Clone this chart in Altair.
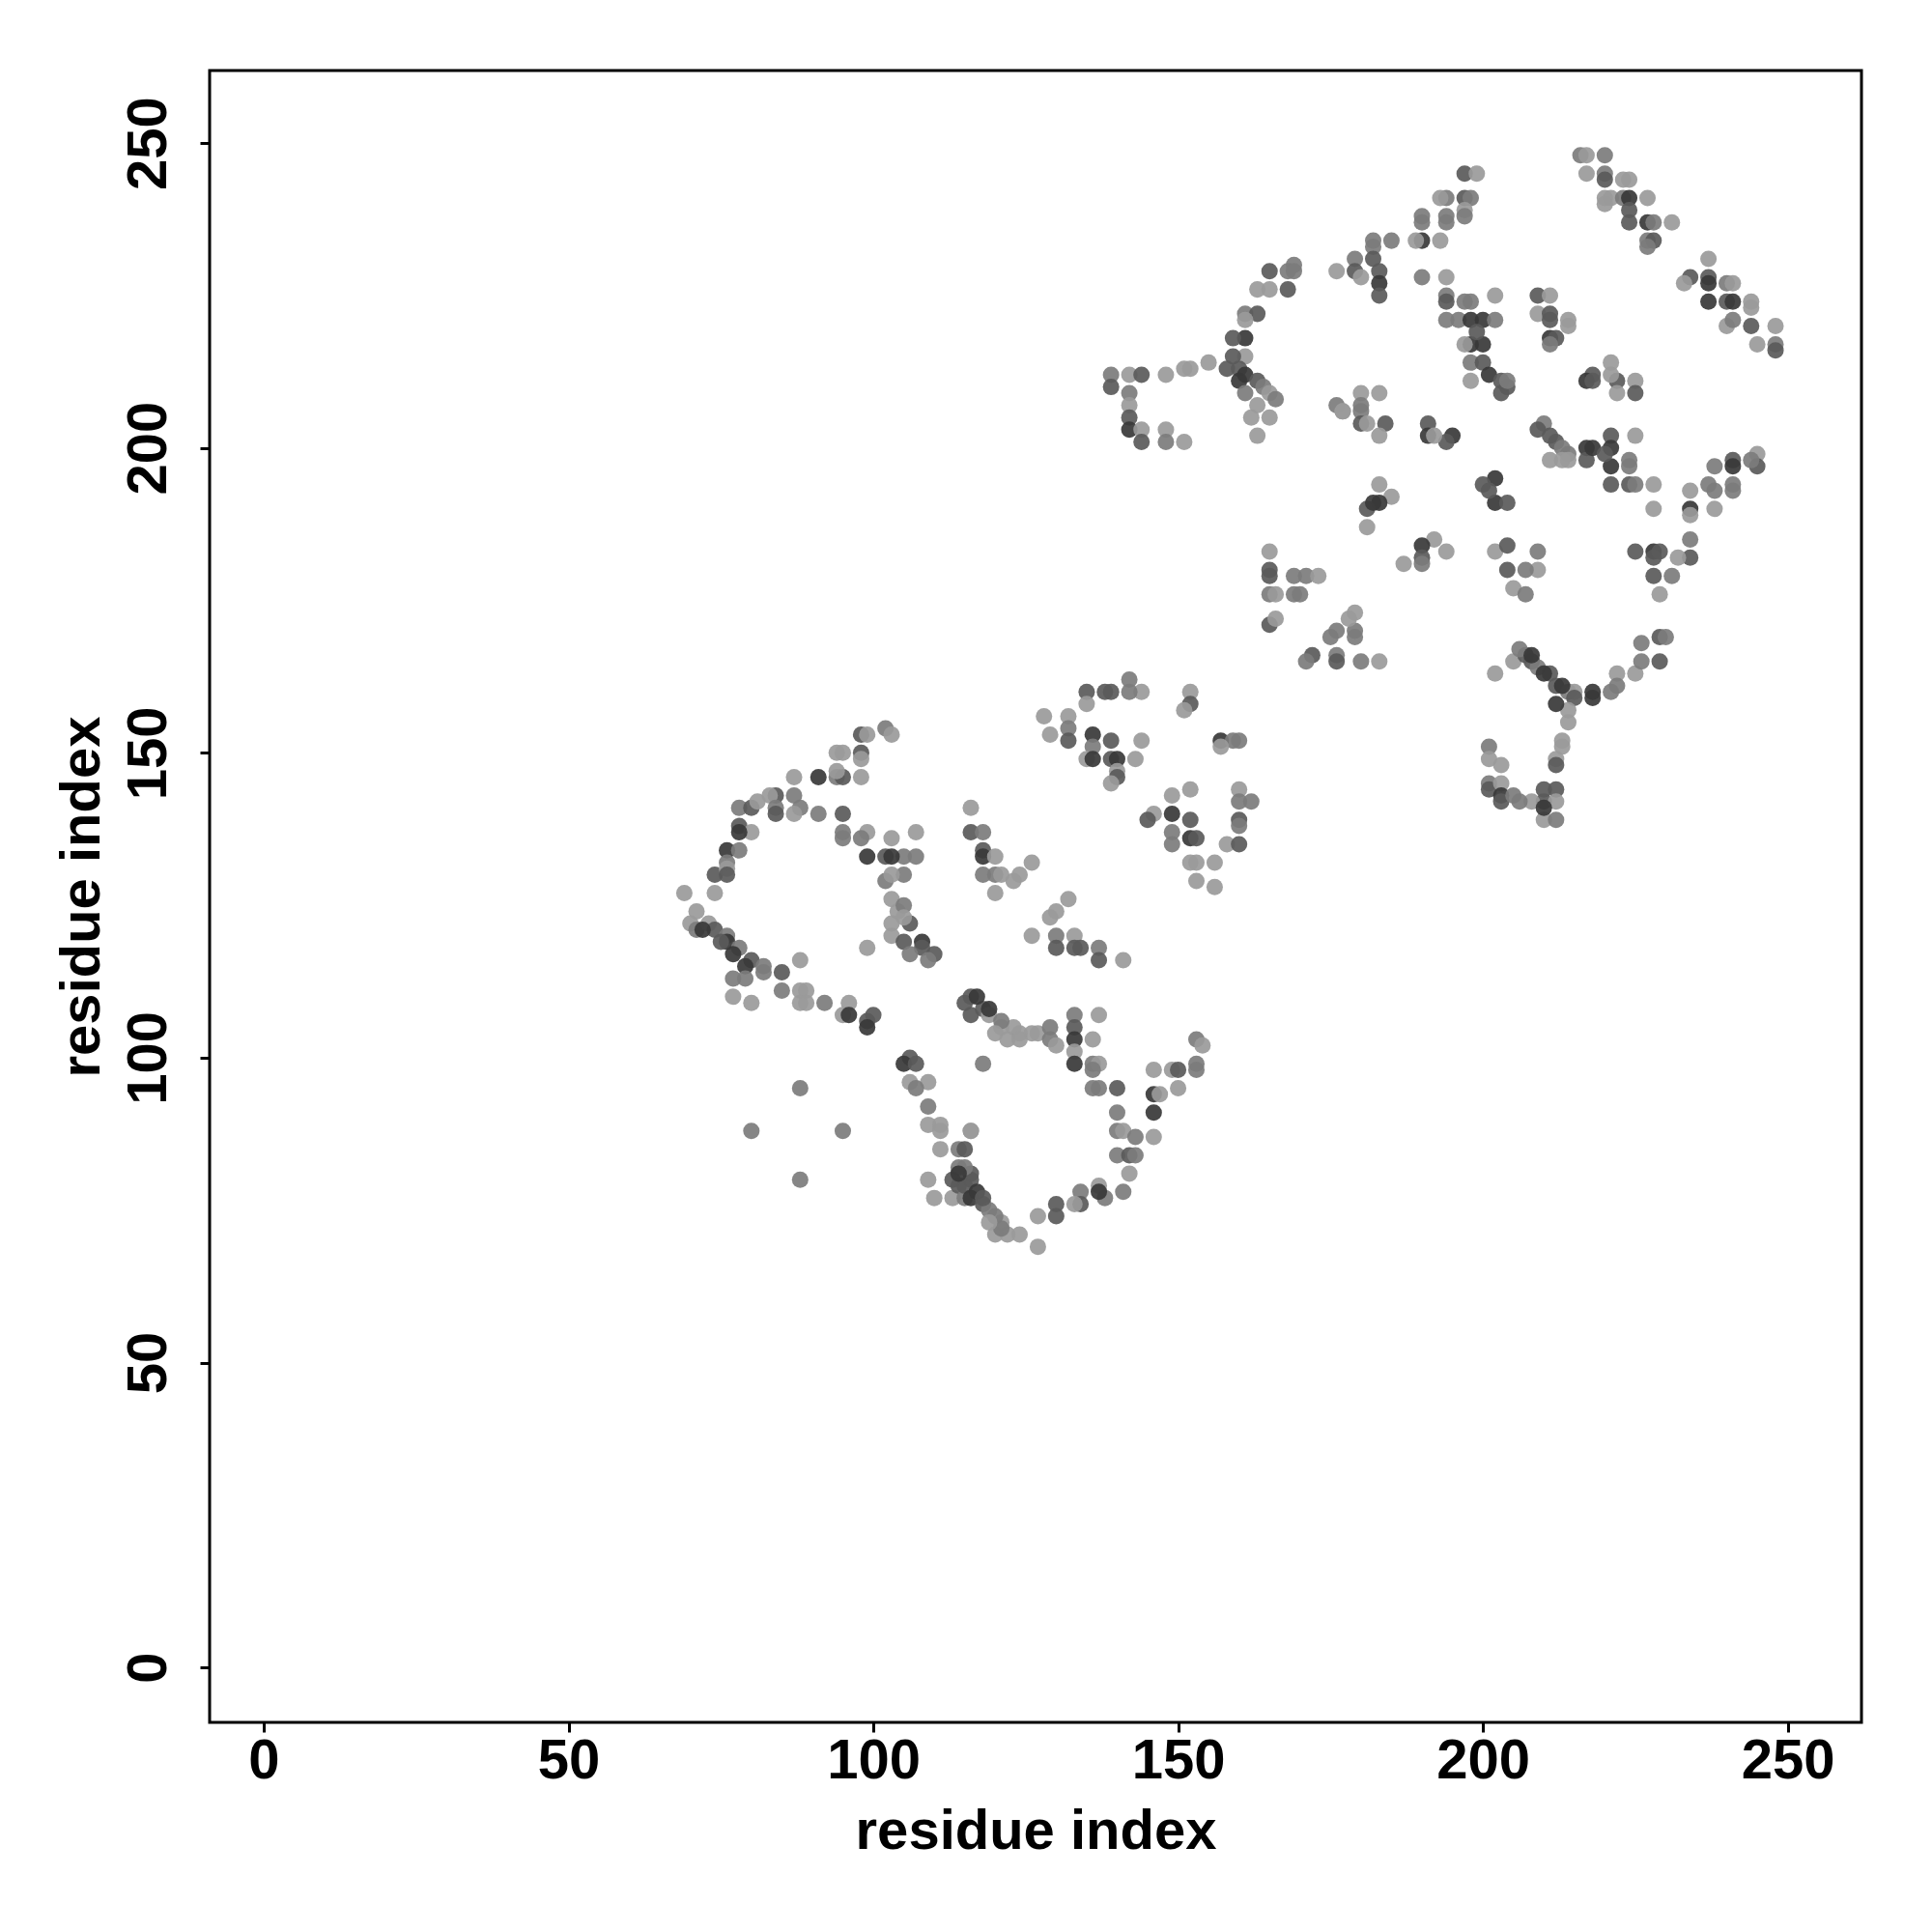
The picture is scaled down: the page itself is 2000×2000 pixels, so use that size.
import altair as alt
import pandas as pd

# (residue i, residue j, shade level 1=light .. 4=dark)
lower_left = [
    (102,154,2),(103,153,1),(98,153,3),(99,153,1),
    (94,150,1),(95,150,1),(98,150,3),(98,149,1),
    (87,146,1),(91,146,4),(94,146,2),(95,146,3),(98,146,1),(94,147,1),
    (84,143,3),(87,143,2),(83,143,1),
    (78,141,2),(80,141,3),(81,142,1),(84,141,2),(88,141,2),(91,140,2),(95,140,3),(87,140,1),(84,140,3),
    (78,138,3),(80,137,1),(78,137,4),
    (95,137,2),(95,136,2),(99,137,1),(103,136,1),(107,137,1),(98,136,2),
    (76,134,4),(78,134,2),(76,132,2),
    (99,133,4),(102,133,3),(105,133,2),(107,133,2),(103,133,4),
    (74,130,3),(76,131,1),(76,130,3),
    (69,127,1),(74,127,1),
    (102,129,2),(105,130,2),(103,130,1),
    (103,126,1),(104,124,1),(105,125,2),(103,122,1),(106,122,3),(105,123,1),(103,120,1),
    (105,119,3),(108,119,4),(108,118,3),(110,117,3),(109,116,2),(106,117,2),
    (99,118,1),
    (71,124,1),(70,122,1),(71,121,2),(73,122,1),(74,121,3),(76,120,2),(76,119,4),(78,118,2),
    (80,116,3),(82,115,2),(85,114,3),(88,116,1),(72,121,4),(75,119,3),(77,117,4),(79,115,4),
]

lower_mid = [
    (77,113,2),(77,110,1),(80,109,1),(79,113,2),(82,114,2),(85,111,2),(88,111,1),(89,111,1),
    (88,109,1),(89,109,1),(92,109,2),(96,109,1),(95,107,1),(96,107,4),(99,106,3),(100,107,3),(99,105,4),
    (106,100,3),(105,99,4),(107,99,3),(106,96,1),(109,96,1),(107,95,2),
    (109,92,2),(109,89,1),(111,89,1),(111,88,1),(116,88,1),(111,85,1),(114,85,2),(114,82,2),
    (109,80,1),(110,77,1),(113,77,1),(114,79,3),(116,80,3),(115,77,2),
    (88,95,2),(80,88,2),(95,88,2),(88,80,2),
    (115,109,3),(116,107,3),
]

lower_right = [
    (116,110,3),(118,108,3),(119,107,1),(121,105,1),(123,105,1),(124,104,1),(126,104,1),(127,104,1),
    (117,110,4),(119,108,4),(121,106,2),(120,104,1),(122,103,1),(124,103,1),
    (129,105,2),(129,103,2),(130,102,1),(133,107,2),(133,105,3),(133,103,4),(133,101,1),(137,107,1),
    (136,103,1),(133,99,4),(136,99,2),(137,99,1),(136,98,2),(136,95,2),(137,95,2),(140,95,3),
    (118,99,2),
    (140,91,2),(140,88,2),(141,88,1),(143,87,2),(146,87,1),(140,84,2),(142,84,3),(143,84,2),
    (142,81,1),(141,78,2),(137,79,1),(138,77,2),(137,78,4),(134,78,2),(134,76,3),(133,76,1),
    (130,76,3),(130,74,3),(127,74,1),(127,69,1),
    (146,94,4),(146,91,4),(146,98,1),(147,94,1),(149,98,1),(150,98,3),(150,95,1),
    (153,103,2),(154,102,1),(153,99,2),(153,98,2),
    (115,79,3),(116,77,4),(118,76,3),(119,75,2),(121,73,1),(122,71,1),(124,71,1),(120,71,1),
    (116,81,3),(116,88,1),(115,85,3),(115,82,2),(113,80,3),(114,81,4),(117,78,4),(118,77,3),
    (120,74,2),(121,72,2),(119,73,1),
]

lower_top = [
    (142,162,2),(139,160,3),(135,160,3),(135,158,1),(144,160,1),(138,160,3),(142,160,2),
    (152,160,1),(152,158,3),(151,157,1),
    (128,156,1),(132,156,1),(132,154,2),(129,153,1),(132,152,3),(136,153,4),(136,151,2),(139,152,3),
    (144,152,1),(135,149,1),(136,149,4),(139,149,3),(140,149,4),(143,149,1),(140,147,1),(140,146,3),(139,145,1),
    (157,152,4),(159,152,2),(160,152,2),(157,151,1),
    (116,141,1),(116,137,3),(118,137,2),(118,134,3),(118,133,4),(120,133,1),(118,130,2),(120,130,2),
    (121,130,1),(124,130,1),(126,132,1),(120,127,1),(123,129,1),
    (149,143,1),(152,144,1),(146,140,1),(149,140,4),(152,139,3),(145,139,3),(149,137,2),(152,136,4),
    (153,136,3),(149,135,2),(152,132,1),(153,132,1),(156,132,1),(153,129,1),(156,128,1),
    (160,144,1),(160,142,2),(162,142,2),(160,139,3),(160,138,2),(158,135,1),(160,135,3),
    (132,126,1),(130,124,1),(129,123,1),(126,120,1),(130,120,2),(133,120,1),(130,118,3),(133,118,3),
    (134,118,3),(137,118,2),(137,116,3),(141,116,1),
]

upper_left = [
    (139,212,2),(142,212,1),(144,212,3),(139,210,3),(142,209,2),(142,207,1),(142,205,3),(142,203,4),
    (144,203,1),(148,203,1),(144,201,3),(148,201,2),(151,201,1),(148,212,1),(151,213,1),(152,213,1),(155,214,1),
    (197,245,3),(199,245,1),(197,241,3),(198,241,2),(194,241,2),(193,241,1),(197,239,1),(197,238,2),
    (194,238,2),(190,238,2),(190,237,2),(194,237,2),(190,234,4),(189,234,1),(193,234,1),(185,234,2),
    (182,234,2),(182,233,2),(182,231,3),(179,231,2),(179,229,3),(176,229,1),(180,228,1),(183,229,3),
    (183,227,4),(183,225,3),(190,228,2),(194,228,1),
    (169,230,2),(165,229,3),(168,229,2),(169,229,2),(163,226,1),(165,226,1),(168,226,3),(161,222,2),
    (163,222,3),(161,221,1),
    (161,218,4),(159,218,3),(161,215,1),(159,215,3),(160,213,3),(161,212,4),(163,211,3),(164,210,2),
    (165,209,1),(166,208,2),(158,213,3),(160,211,4),(161,209,2),(163,207,1),
    (194,225,2),(194,224,3),(197,224,2),(198,224,2),(202,225,1),(194,221,2),(196,221,2),(198,221,4),
    (200,221,4),(202,221,2),(198,217,4),(200,217,4),(197,217,1),(199,219,3),
    (198,214,2),(198,211,1),(200,214,3),(201,212,4),(203,211,3),(204,210,3),(203,209,3),(204,211,2),
    (180,209,1),(183,209,1),(176,207,2),(177,206,1),(180,207,2),
]

upper_right = [
    (216,248,2),(217,248,1),(220,248,2),(217,245,1),(220,245,2),(220,244,3),(223,244,1),(224,244,1),
    (220,241,1),(221,241,1),(223,241,2),(224,241,4),(227,241,1),(220,240,1),(224,239,3),(224,237,3),
    (227,237,4),(228,237,2),(231,237,1),(227,234,2),(228,234,3),(227,233,2),
    (237,231,1),(234,228,3),(233,227,1),(237,228,3),(237,227,4),(240,227,2),(241,227,1),(237,224,4),
    (240,224,3),(241,224,4),(244,224,1),(244,223,1),(240,220,1),(241,221,2),(244,220,3),(248,220,1),
    (245,217,1),(248,217,2),(248,216,3),
    (209,225,3),(211,225,1),(209,222,1),(211,222,3),(211,221,3),(214,221,1),(214,220,1),(211,218,4),
    (212,218,3),(211,217,2),
    (221,214,1),(218,212,3),(217,211,4),(218,211,3),(222,211,3),(225,211,1),(222,209,1),(225,209,3),(221,212,1),
]

upper_mid = [
    (163,202,1),(162,205,1),(165,205,1),(177,206,1),(180,206,2),(180,204,3),(184,204,3),(183,202,1),(181,204,1),
    (191,204,3),(191,202,4),(195,202,4),(194,201,3),(192,202,1),
    (183,194,1),(185,192,1),(183,191,4),(181,190,3),(181,187,1),(182,191,4),
    (202,195,4),(200,194,3),(202,191,4),(204,191,3),(201,193,3),
    (192,185,1),(190,184,4),(190,182,3),(194,183,1),(187,181,1),(190,181,2),
    (202,183,1),(204,184,3),(204,180,3),(205,177,1),(202,163,1),(205,165,1),
    (165,183,1),(165,180,3),(165,179,3),(169,179,2),(171,179,2),(173,179,1),(165,176,2),(166,176,1),
    (169,176,2),(170,176,2),(165,171,3),(166,172,1),
    (179,173,1),(179,170,2),(179,169,2),(178,172,1),(176,170,2),(175,169,2),(172,166,3),(171,165,2),
    (176,166,2),(176,165,3),(180,165,2),(183,165,1),
]

upper_low = [
    (210,204,2),(209,203,3),(211,202,3),(212,201,3),(213,200,2),(214,199,2),(211,198,1),(213,198,1),
    (214,198,1),(217,200,4),(217,198,3),(218,200,4),(221,202,3),(221,200,4),(221,197,4),(221,194,3),
    (220,199,3),(224,198,2),(224,197,2),(225,202,1),(224,194,3),(225,194,2),(228,194,1),(228,190,1),
    (234,193,1),(234,190,4),(234,189,1),(238,190,1),(237,194,2),(238,193,2),(241,194,2),(241,193,2),
    (238,197,2),(241,198,3),(241,197,4),(245,199,1),(245,197,3),(244,198,2),
    (234,185,2),(234,182,3),(225,183,3),(228,183,4),(229,183,3),(232,182,1),(228,182,3),(228,179,3),
    (231,179,2),(229,176,1),
    (209,183,2),(209,180,1),(207,180,2),(207,176,2),
    (207,166,3),(208,165,3),(209,164,2),(211,163,3),(212,161,3),(214,160,2),(215,160,1),(218,160,4),
    (222,163,1),(222,161,2),(225,163,1),(226,165,2),(226,168,2),(229,169,3),(230,169,2),(229,165,3),
    (206,167,2),(210,163,4),(213,161,4),(208,166,4),
    (201,151,2),(201,149,1),(203,148,1),(201,145,2),(201,144,3),(203,145,1),(203,143,4),(203,142,3),(205,143,2),
    (214,155,1),(213,152,1),(213,151,1),(212,149,1),(212,148,3),(210,144,3),(212,144,3),(210,142,3),
    (212,142,1),(208,142,1),(206,142,2),(210,139,1),(212,139,2),(210,141,4),
    (218,159,4),(221,160,2),(215,159,3),(214,157,1),(212,158,4),
]

tick_values = [0, 50, 100, 150, 200, 250]
shade_levels = [1, 2, 3, 4]
shade_colors = ["#9a9a9a", "#7c7c7c", "#5a5a5a", "#383838"]

rows = []
for group in [lower_left, lower_mid, lower_right, lower_top,
              upper_left, upper_right, upper_mid, upper_low]:
    for i, j, s in group:
        rows.append({"i": i, "j": j, "shade": s})
df = pd.DataFrame(rows)

FONT = "Liberation Sans"

chart = alt.Chart(df).mark_circle(size=290, opacity=0.92).encode(
    x=alt.X("i:Q",
            scale=alt.Scale(domain=[-8.87, 262.1], nice=False, zero=False),
            axis=alt.Axis(values=tick_values, title="residue index", grid=False, domain=False,
                          tickSize=10, tickWidth=3, tickColor="black",
                          labelFont=FONT, labelFontSize=58, labelFontWeight="bold", labelColor="black",
                          labelBaseline="alphabetic", labelPadding=47, labelFlush=False,
                          titleFont=FONT, titleFontSize=58, titleFontWeight="bold", titleColor="black",
                          titleBaseline="alphabetic", titleAlign="center", titleX=855, titleY=130)),
    y=alt.Y("j:Q",
            scale=alt.Scale(domain=[-9.0, 261.9], nice=False, zero=False),
            axis=alt.Axis(values=tick_values, title="residue index", grid=False, domain=False,
                          tickSize=10, tickWidth=3, tickColor="black",
                          labelFont=FONT, labelFontSize=58, labelFontWeight="bold", labelColor="black",
                          labelAngle=270, labelAlign="center", labelBaseline="alphabetic",
                          labelPadding=36, labelFlush=False,
                          titleFont=FONT, titleFontSize=58, titleFontWeight="bold", titleColor="black",
                          titleAngle=270, titleBaseline="alphabetic", titleAlign="center",
                          titleX=-115, titleY=855)),
    color=alt.Color("shade:O", scale=alt.Scale(domain=shade_levels, range=shade_colors), legend=None),
).properties(
    width=1710, height=1710,
    background="white",
    autosize=alt.AutoSizeParams(type="none"),
    padding={"left": 209, "top": 65, "right": 50, "bottom": 200},
).configure_view(
    stroke="black", strokeWidth=3
)

chart.save("out.html", embed_options={"renderer": "svg", "actions": False})
